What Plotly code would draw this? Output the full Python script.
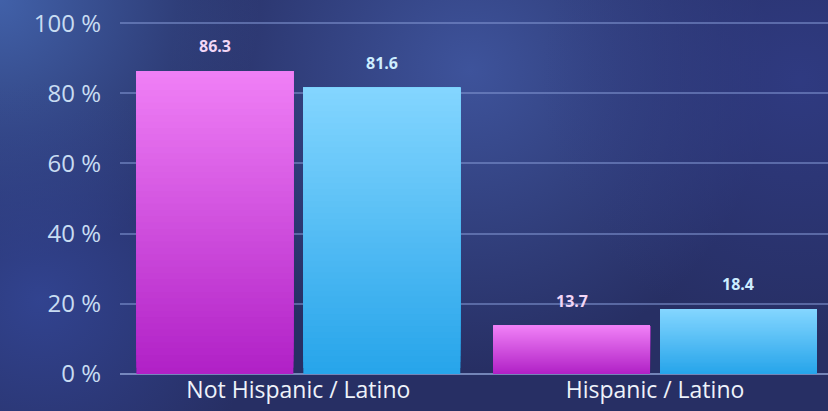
import base64
import plotly.graph_objects as go

# Data
categories = ["Not Hispanic / Latino", "Hispanic / Latino"]
values_a = [86.3, 13.7]
values_b = [81.6, 18.4]
y_ticks = [0, 20, 40, 60, 80, 100]
y_tick_labels = ["0 %", "20 %", "40 %", "60 %", "80 %", "100 %"]

W, H = 828, 411
N_STEPS = 48  # vertical gradient resolution per bar


def lerp_color(c0, c1, t):
    a = [int(c0[i:i + 2], 16) for i in (1, 3, 5)]
    b = [int(c1[i:i + 2], 16) for i in (1, 3, 5)]
    return "rgb({},{},{})".format(*[round(a[i] + (b[i] - a[i]) * t) for i in range(3)])


# bottom -> top colours of each series
grad_a = ("#b020c6", "#f080f6")
grad_b = ("#26a4ea", "#84d6ff")
label_colors = ["#f2d6f6", "#cdeeff"]

bar_w = 0.44
gap = 0.028
offsets = [-bar_w - gap / 2, gap / 2]

fig = go.Figure()
xs = list(range(len(categories)))
for vals, grad, off in ((values_a, grad_a, offsets[0]), (values_b, grad_b, offsets[1])):
    # each layer runs from its own base up to the bar top; the next layer
    # paints over it, so the bands join without seams
    for k in range(N_STEPS):
        t = (k + 0.5) / N_STEPS
        fig.add_trace(go.Bar(
            x=xs,
            y=[v * (N_STEPS - k) / N_STEPS for v in vals],
            base=[v * k / N_STEPS for v in vals],
            offset=off,
            width=bar_w,
            marker=dict(color=lerp_color(grad[0], grad[1], t), line=dict(width=0)),
            showlegend=False,
            hoverinfo="skip",
        ))

# value labels above bars
for vals, off, col in ((values_a, offsets[0], label_colors[0]), (values_b, offsets[1], label_colors[1])):
    for i, v in enumerate(vals):
        fig.add_annotation(
            x=i + off + bar_w / 2, y=v, text=f"{v}", showarrow=False,
            yanchor="bottom", yshift=12,
            font=dict(family="Open Sans", size=16, color=col, weight="bold"),
        )

# backdrop: deep navy with soft glows
svg = f"""<svg xmlns='http://www.w3.org/2000/svg' width='{W}' height='{H}'>
<defs>
<radialGradient id='g1' cx='470' cy='70' r='300' gradientUnits='userSpaceOnUse'>
<stop offset='0' stop-color='#3f559e' stop-opacity='0.95'/>
<stop offset='1' stop-color='#3f559e' stop-opacity='0'/></radialGradient>
<radialGradient id='g2' cx='0' cy='0' r='260' gradientUnits='userSpaceOnUse'>
<stop offset='0' stop-color='#4466b0' stop-opacity='0.9'/>
<stop offset='1' stop-color='#4466b0' stop-opacity='0'/></radialGradient>
<radialGradient id='g3' cx='40' cy='300' r='220' gradientUnits='userSpaceOnUse'>
<stop offset='0' stop-color='#34489a' stop-opacity='0.8'/>
<stop offset='1' stop-color='#34489a' stop-opacity='0'/></radialGradient>
<radialGradient id='g4' cx='800' cy='80' r='260' gradientUnits='userSpaceOnUse'>
<stop offset='0' stop-color='#313d88' stop-opacity='0.8'/>
<stop offset='1' stop-color='#313d88' stop-opacity='0'/></radialGradient>
</defs>
<rect width='{W}' height='{H}' fill='#272f64'/>
<rect width='{W}' height='{H}' fill='url(#g1)'/>
<rect width='{W}' height='{H}' fill='url(#g2)'/>
<rect width='{W}' height='{H}' fill='url(#g3)'/>
<rect width='{W}' height='{H}' fill='url(#g4)'/>
</svg>"""
bg_uri = "data:image/svg+xml;base64," + base64.b64encode(svg.encode()).decode()

Y_MAX = 100.6
plot_h = H - 21 - 37
fig.update_layout(
    width=W, height=H,
    margin=dict(l=120, r=0, t=21, b=37),
    barmode="overlay",
    paper_bgcolor="#272f64",
    plot_bgcolor="rgba(0,0,0,0)",
    font=dict(family="Open Sans", color="#e6edf8"),
    images=[dict(source=bg_uri, xref="paper", yref="paper", x=-120 / 708, y=1 + 21 / plot_h,
                 sizex=W / 708, sizey=H / plot_h, xanchor="left", yanchor="top",
                 sizing="stretch", layer="below")],
    xaxis=dict(
        range=[-0.5, 1.485], tickvals=xs, ticktext=categories,
        showgrid=False, zeroline=False, showline=False,
        tickfont=dict(size=23, color="#eef2fa"), ticks="",
    ),
    yaxis=dict(
        range=[0, Y_MAX], tickvals=y_ticks, ticktext=y_tick_labels,
        showgrid=True, gridcolor="rgba(130,150,210,0.55)", gridwidth=1.5,
        zeroline=True, zerolinecolor="rgba(150,170,220,0.7)", zerolinewidth=1.5,
        tickfont=dict(size=24, color="#c8dcf2"), ticklabelstandoff=18,
        showline=False,
    ),
)

fig.write_html("out.html")
